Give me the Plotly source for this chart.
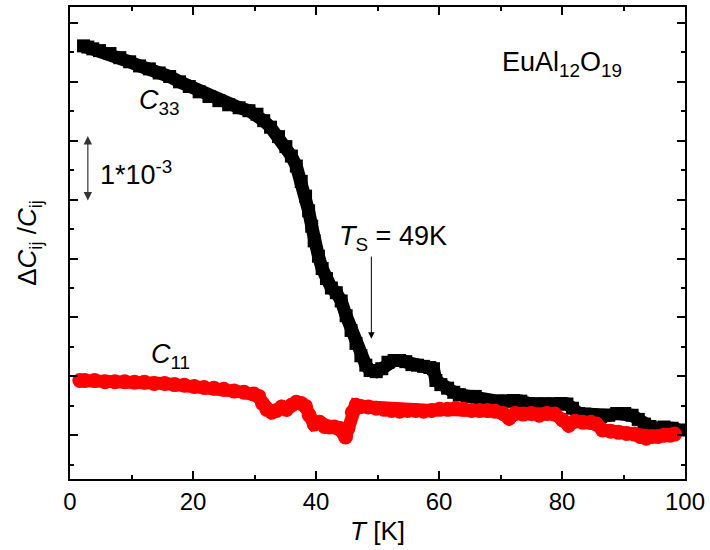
import plotly.graph_objects as go

# Relative change of the elastic constants, in units of 1e-3 (arbitrary offset)
t_c33 = [2.2, 2.9, 3.7, 4.8, 6.5, 8.1, 9.7, 11.3, 12.9, 14.5, 16.2, 17.8, 19.4, 21.0,
         22.6, 24.2, 25.8, 27.5, 29.1, 30.4, 31.5, 32.6, 33.9, 35.1, 36.0, 36.8, 37.6,
         38.3, 38.8, 39.3, 39.7, 40.4, 41.0, 41.7, 42.5, 43.3, 44.1, 44.9, 45.7, 46.5,
         47.3, 48.1, 48.8, 49.8, 50.7, 51.7, 52.7, 53.6, 54.6, 55.6, 56.5, 57.5, 58.5,
         59.1, 59.5, 60.3, 61.4, 62.4, 63.3, 64.6, 65.9, 67.0, 68.2, 69.5, 70.8, 72.1,
         73.3, 74.6, 75.9, 77.2, 78.5, 79.8, 80.8, 81.7, 82.7, 83.7, 85.0, 86.3, 87.6,
         88.9, 90.2, 91.4, 92.4, 93.4, 94.3, 95.3, 96.6, 97.9, 99.0]
c33 = [6.61, 6.59, 6.56, 6.53, 6.48, 6.41, 6.34, 6.27, 6.22, 6.15, 6.09, 6.00, 5.92, 5.83,
       5.75, 5.68, 5.61, 5.56, 5.51, 5.45, 5.34, 5.23, 5.07, 4.90, 4.74, 4.57, 4.31,
       4.06, 3.81, 3.55, 3.30, 3.04, 2.83, 2.66, 2.50, 2.42, 2.28, 2.03, 1.78, 1.56,
       1.35, 1.19, 1.10, 1.08, 1.13, 1.24, 1.27, 1.27, 1.25, 1.20, 1.19, 1.17, 1.15,
       1.13, 0.93, 0.86, 0.80, 0.73, 0.69, 0.66, 0.66, 0.59, 0.56, 0.58, 0.58, 0.59,
       0.58, 0.54, 0.53, 0.53, 0.53, 0.54, 0.53, 0.46, 0.37, 0.36, 0.34, 0.32, 0.34,
       0.37, 0.37, 0.34, 0.27, 0.19, 0.15, 0.12, 0.14, 0.12, 0.09]

t_c11 = [1.6, 2.4, 4.0, 5.7, 7.3, 8.9, 10.5, 12.1, 13.7, 15.4, 17.0, 18.6, 20.2, 21.8,
         23.4, 25.0, 26.7, 28.3, 29.9, 30.7, 31.3, 32.0, 32.8, 33.6, 34.4, 35.2, 36.0,
         36.8, 37.6, 38.3, 38.9, 39.7, 40.6, 41.4, 42.2, 43.0, 43.8, 44.4, 44.8, 45.2,
         45.9, 46.5, 47.3, 48.5, 49.8, 51.1, 52.3, 53.6, 54.9, 56.2, 57.5, 58.8, 60.1,
         61.4, 62.7, 64.0, 65.3, 66.6, 67.9, 69.1, 70.4, 71.4, 72.4, 73.7, 75.0, 76.3,
         77.5, 78.8, 80.1, 81.1, 82.1, 83.4, 84.7, 85.6, 86.6, 87.9, 89.2, 90.5, 91.8,
         92.7, 93.7, 94.7, 95.6, 96.6, 97.6, 98.3]
c11 = [0.93, 0.93, 0.93, 0.91, 0.91, 0.91, 0.90, 0.90, 0.88, 0.88, 0.86, 0.85, 0.83, 0.81,
       0.80, 0.78, 0.75, 0.73, 0.70, 0.66, 0.54, 0.44, 0.39, 0.42, 0.48, 0.44, 0.51,
       0.56, 0.54, 0.49, 0.34, 0.19, 0.22, 0.15, 0.14, 0.14, 0.12, 0.05, -0.03, 0.12,
       0.39, 0.51, 0.49, 0.48, 0.46, 0.44, 0.42, 0.41, 0.42, 0.42, 0.41, 0.42, 0.44,
       0.44, 0.46, 0.44, 0.42, 0.42, 0.42, 0.41, 0.37, 0.29, 0.37, 0.36, 0.37, 0.34,
       0.37, 0.36, 0.26, 0.17, 0.24, 0.22, 0.22, 0.19, 0.09, 0.07, 0.05, 0.03, 0.02,
       -0.02, -0.05, -0.02, -0.02, 0.00, 0.00, 0.02]

x_ticks = [0, 20, 40, 60, 80, 100]
t_s = 49

FONT = "Liberation Sans, Arial, sans-serif"

fig = go.Figure()
fig.add_trace(go.Scatter(
    x=t_c33, y=c33, mode="lines+markers",
    line=dict(color="black", width=13),
    marker=dict(symbol="square", size=13, color="black", line=dict(width=0)),
    showlegend=False, hoverinfo="skip"))
fig.add_trace(go.Scatter(
    x=t_c11, y=c11, mode="lines+markers",
    line=dict(color="#ff0000", width=13),
    marker=dict(symbol="circle", size=15, color="#ff0000", line=dict(width=0)),
    showlegend=False, hoverinfo="skip"))

axis_common = dict(showline=True, linecolor="black", linewidth=1.5, mirror="ticks",
                   ticks="inside", tickcolor="black", tickwidth=1.5, ticklen=8,
                   showgrid=False, zeroline=False)

fig.update_xaxes(range=[0, 100], tickvals=x_ticks,
                 tickfont=dict(size=24, color="black", family=FONT),
                 title=dict(text="<i>T</i> [K]", font=dict(size=26, color="black", family=FONT),
                            standoff=8),
                 minor=dict(dtick=10, ticks="inside", ticklen=4, tickcolor="black", tickwidth=1.5),
                 **axis_common)
fig.update_yaxes(range=[-0.742, 7.27], dtick=1, tick0=0, showticklabels=False,
                 title=dict(text="Δ<i>C</i><sub>ij</sub> /<i>C</i><sub>ij</sub>",
                            font=dict(size=26, color="black", family=FONT), standoff=24),
                 minor=dict(dtick=0.5, ticks="inside", ticklen=4, tickcolor="black", tickwidth=1.5),
                 **axis_common)

txt = dict(size=27, color="black", family=FONT)
fig.add_annotation(x=0.8, y=0.92, xref="paper", yref="paper", showarrow=False,
                   text="EuAl<sub>12</sub>O<sub>19</sub>", font=txt, xanchor="center")
fig.add_annotation(x=14.5, y=5.65, showarrow=False, text="<i>C</i><sub>33</sub>", font=txt)
fig.add_annotation(x=16.3, y=1.35, showarrow=False, text="<i>C</i><sub>11</sub>", font=txt)
fig.add_annotation(x=52.5, y=3.35, showarrow=False,
                   text="<i>T</i><sub>S</sub> = 49K", font=txt)
fig.add_annotation(x=4.6, y=4.45, showarrow=False, xanchor="left",
                   text="1*10<sup>-3</sup>", font=txt)

# 1e-3 scale bar
fig.add_annotation(x=2.9, y=5.08, ax=2.9, ay=3.96, axref="x", ayref="y", text="",
                   showarrow=True, arrowhead=2, arrowside="end+start", arrowsize=1.4,
                   arrowwidth=1.2, arrowcolor="#333333")
# structural transition marker
fig.add_annotation(x=t_s, y=1.64, ax=t_s, ay=3.06, axref="x", ayref="y", text="",
                   showarrow=True, arrowhead=2, arrowsize=1.3, arrowwidth=1,
                   arrowcolor="black")

fig.update_layout(width=710, height=550, autosize=False,
                  margin=dict(l=70, r=21, t=5, b=71),
                  paper_bgcolor="white", plot_bgcolor="white",
                  font=dict(family=FONT, color="black"))

fig.write_html("out.html")
